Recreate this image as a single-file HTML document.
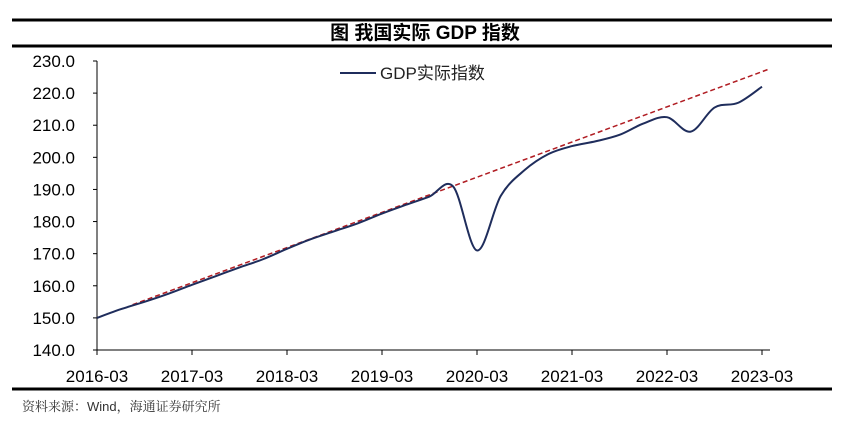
<!DOCTYPE html>
<html><head><meta charset="utf-8"><style>
body{margin:0;background:#fff;width:850px;height:419px;overflow:hidden;font-family:"Liberation Sans","Noto Sans CJK SC",sans-serif}
</style></head><body>
<svg id="c" width="850" height="419" xmlns="http://www.w3.org/2000/svg">
<line x1="12" y1="20" x2="832" y2="20" stroke="#000" stroke-width="3"/>
<text x="425" y="39" text-anchor="middle" font-size="19" font-weight="bold" font-family="Liberation Sans,Noto Sans CJK SC,sans-serif">图  我国实际 GDP 指数</text>
<line x1="12" y1="46" x2="832" y2="46" stroke="#000" stroke-width="3"/>
<line x1="12" y1="389" x2="832" y2="389" stroke="#000" stroke-width="3"/>
<text x="22" y="411" font-size="13" fill="#333" font-family="Liberation Sans,Noto Serif CJK SC,sans-serif">资料来源：Wind，海通证券研究所</text>
<g id="axes"></g>
<g id="marks"></g>
<line x1="340" y1="73" x2="376" y2="73" stroke="#1f2d5c" stroke-width="2"/>
<text x="380" y="79" font-size="17" fill="#222">GDP实际指数</text>
</svg>
<script>
const yTicks=[140,150,160,170,180,190,200,210,220,230];
const xLabels=["2016-03","2017-03","2018-03","2019-03","2020-03","2021-03","2022-03","2023-03"];
const gdp=[150,152.7,155,157.5,160.3,163,165.7,168.3,171.5,174.5,177,179.5,182.5,185.2,187.8,190.9,171,188,196,201,203.5,205,207,210.5,212.5,208,215.5,217,222];
const trendStart=[1.5,154.1];
const trendEnd=[28.3,227.5];
const NS="http://www.w3.org/2000/svg";
const X=i=>97+i*(762-97)/28;
const Y=v=>350-(v-140)*(350-61)/90;
const ax=document.getElementById('axes'),mk=document.getElementById('marks');
function el(t,a,p){const e=document.createElementNS(NS,t);for(const k in a)e.setAttribute(k,a[k]);p.appendChild(e);return e;}
const ya=el('line',{x1:97,y1:61,x2:97,y2:350,stroke:'#000','stroke-width':1},ax);


const xa=el('line',{x1:97,y1:350,x2:770,y2:350,stroke:'#000','stroke-width':1},ax);


yTicks.forEach(v=>{
 el('line',{x1:93,y1:Y(v),x2:97,y2:Y(v),stroke:'#000'},ax);
 const t=el('text',{x:75,y:Y(v)+6,'text-anchor':'end','font-size':17,fill:'#000'},ax);
 t.textContent=v.toFixed(1);
 
 
});
xLabels.forEach((l,k)=>{
 const x=X(k*4);
 el('line',{x1:x,y1:350,x2:x,y2:355,stroke:'#000'},ax);
 const t=el('text',{x:x,y:382,'text-anchor':'middle','font-size':17,fill:'#000'},ax);
 t.textContent=l;
 
 
});
const tr=el('line',{x1:X(trendStart[0]),y1:Y(trendStart[1]),x2:X(trendEnd[0]),y2:Y(trendEnd[1]),stroke:'#b01c22','stroke-width':1.5,'stroke-dasharray':'5,3'},mk);


const pts=gdp.map((v,i)=>[X(i),Y(v)]);
let d=`M${pts[0][0]},${pts[0][1]}`;
for(let i=0;i<pts.length-1;i++){
 const p0=pts[Math.max(0,i-1)],p1=pts[i],p2=pts[i+1],p3=pts[Math.min(pts.length-1,i+2)];
 const c1=[p1[0]+(p2[0]-p0[0])/6,p1[1]+(p2[1]-p0[1])/6],c2=[p2[0]-(p3[0]-p1[0])/6,p2[1]-(p3[1]-p1[1])/6];
 d+=`C${c1[0]},${c1[1]} ${c2[0]},${c2[1]} ${p2[0]},${p2[1]}`;
}
const ln=el('path',{d:d,fill:'none',stroke:'#1f2d5c','stroke-width':2},mk);


</script>
</body></html>
